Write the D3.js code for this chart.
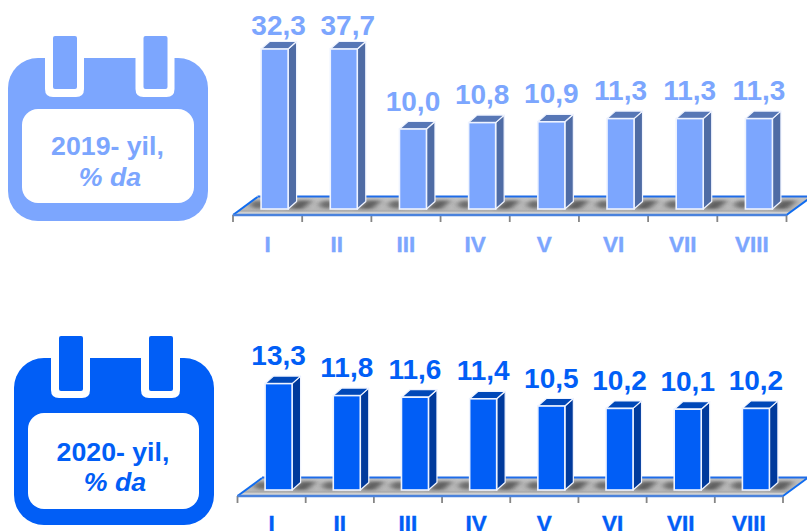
<!DOCTYPE html>
<html><head><meta charset="utf-8">
<script src="https://cdn.jsdelivr.net/npm/d3@7"></script>
<style>html,body{margin:0;padding:0;background:#fff;overflow:hidden}svg{display:block}text{font-family:"Liberation Sans",Arial,sans-serif;font-weight:bold}</style>
</head><body>
<svg id="c" width="807" height="531"></svg>
<script>
const months = ["I","II","III","IV","V","VI","VII","VIII"];
const values2019 = [32.3,37.7,10.0,10.8,10.9,11.3,11.3,11.3];
const values2020 = [13.3,11.8,11.6,11.4,10.5,10.2,10.1,10.2];
const yearLabel2019 = "2019- yil,";
const yearLabel2020 = "2020- yil,";
const unitLabel = "% da";
const axisMax = 20;

const svg = d3.select("#c");
const defs = svg.append("defs");
defs.append("filter").attr("id","blur").attr("x","-60%").attr("y","-100%").attr("width","220%").attr("height","300%")
  .append("feGaussianBlur").attr("stdDeviation","3 1.8");
const fmt = v => d3.format(".1f")(v).replace(".",",");

function panel(o){
  const g = svg.append("g");
  // calendar icon
  const c = o.cal, ic = g.append("g");
  ic.append("rect").attr("x",c.x0).attr("y",c.y0).attr("width",c.x1-c.x0).attr("height",c.y1-c.y0).attr("rx",30).attr("fill",o.color);
  ic.append("rect").attr("x",c.ix0).attr("y",c.iy0).attr("width",c.ix1-c.ix0).attr("height",c.iy1-c.iy0).attr("rx",16).attr("fill","#fff");
  c.notch.forEach(nx=>{
    ic.append("path").attr("d",`M${nx},${c.y0-1}V${c.ny-8}q0,8 8,8H${nx+31}q8,0 8,-8V${c.y0-1}Z`).attr("fill","#fff");
    ic.append("rect").attr("x",nx+8).attr("y",c.ty0).attr("width",24).attr("height",c.ty1-c.ty0).attr("rx",2).attr("fill",o.color);
  });
  g.append("text").attr("x",c.tx).attr("y",c.ty).attr("text-anchor","middle").attr("font-size",26.7).attr("fill",o.color).text(o.year);
  g.append("text").attr("x",c.tx+c.dx2).attr("y",c.ty2).attr("text-anchor","middle").attr("font-size",26.7).attr("font-style","italic").attr("fill",o.color).text(unitLabel);

  // chart
  const x = d3.scaleBand().domain(months).range([o.x0,o.x1]);
  const y = d3.scaleLinear().domain([0,axisMax]).range([o.base,o.base-160]).clamp(true);
  const fy=o.floorY, dx=24.5, dy=18, bw=27, sx=8.5, sy=7.5, off=7;
  const floor = g.append("g");
  const grad = "floor"+o.id, clip="clip"+o.id;
  const floorPath = `M${o.x0},${fy}L${o.x0+dx},${fy-dy}H${o.x1+dx}L${o.x1},${fy}Z`;
  defs.append("clipPath").attr("id",clip).append("path").attr("d",floorPath);
  const lg = defs.append("linearGradient").attr("id",grad).attr("x1",0).attr("x2",0).attr("y1",0).attr("y2",1);
  lg.append("stop").attr("offset",0).attr("stop-color","#c4c4c4");
  lg.append("stop").attr("offset",.7).attr("stop-color","#b6b6b6");
  lg.append("stop").attr("offset",.78).attr("stop-color","#a8a8a8");
  lg.append("stop").attr("offset",.85).attr("stop-color","#cfcfcf");
  lg.append("stop").attr("offset",1).attr("stop-color","#d8d8d8");
  floor.append("path").attr("d",floorPath).attr("fill",`url(#${grad})`);
  // shadows, one either side of each bar's foot
  const bx0 = m=>x(m)+x.bandwidth()/2+off-bw/2;
  const sh = floor.append("g").attr("clip-path",`url(#${clip})`);
  sh.selectAll(".s").data(months).join("path")
    .attr("d",m=>{const r=bx0(m)+bw;return `M${r},${o.base}l${sx},${-sy-1}h16l-10,${sy+1}Z`;})
    .attr("fill","#3a3a3a").attr("opacity",.72).attr("filter","url(#blur)");
  sh.selectAll(".s2").data(months).join("ellipse")
    .attr("cx",m=>bx0(m)-3).attr("cy",o.base-4.5).attr("rx",8).attr("ry",4)
    .attr("fill","#3a3a3a").attr("opacity",.6).attr("filter","url(#blur)");
  // ticks
  const ticks = d3.range(months.length+1).map(i=>o.x0+i*x.step());
  floor.selectAll(".t").data(ticks).join("line").attr("x1",d=>d).attr("x2",d=>d).attr("y1",fy).attr("y2",fy+7)
    .attr("stroke","#858585").attr("stroke-width",1.8);
  floor.append("path").attr("d",`M${o.x0},${fy}L${o.x0+dx},${fy-dy}`).attr("stroke","#0f6cf0").attr("stroke-width",2).attr("fill","none");
  floor.append("path").attr("d",`M${o.x1},${fy}L${o.x1+dx},${fy-dy}`).attr("stroke","#0f6cf0").attr("stroke-width",2).attr("fill","none");
  floor.append("path").attr("d",`M${o.x0+dx},${fy-dy-.5}H${o.x1+dx}`).attr("stroke","#1f6ce8").attr("stroke-width",2).attr("fill","none");
  floor.append("path").attr("d",`M${o.x0},${fy}H${o.x1}`).attr("stroke","#4a82dc").attr("stroke-width",2.4).attr("fill","none");
  const axis = d3.axisBottom(x).tickSize(0).tickPadding(0);
  const ax = g.append("g").attr("transform",`translate(0,${o.labelY})`).call(axis);
  ax.select(".domain").remove();
  ax.selectAll("text").attr("y",0).attr("dy",0).attr("font-size",22.5).attr("font-family",null).attr("fill",o.color)
    .attr("stroke",o.color).attr("stroke-width",.4);

  // bars
  const data = months.map((m,i)=>({m,v:o.values[i]}));
  const bars = g.selectAll(".b").data(data).join("g");
  const bx = d=>bx0(d.m);
  bars.append("path").attr("d",d=>{const l=bx(d)+bw,t=y(d.v),b=o.base;return `M${l},${t}l${sx},${-sy}V${b-sy}L${l},${b}Z`;})
    .attr("fill",o.side).attr("stroke","#f0f4ff").attr("stroke-width",1.2).attr("stroke-linejoin","round");
  bars.append("path").attr("d",d=>{const l=bx(d),t=y(d.v);return `M${l},${t}l${sx},${-sy}h${bw}l${-sx},${sy}Z`;})
    .attr("fill",o.top).attr("stroke","#f0f4ff").attr("stroke-width",1.2).attr("stroke-linejoin","round");
  bars.append("rect").attr("x",bx).attr("y",d=>y(d.v)).attr("width",bw).attr("height",d=>o.base-y(d.v))
    .attr("fill",o.color).attr("stroke","#eef3ff").attr("stroke-width",1.6);
  bars.append("text").attr("x",d=>bx(d)+bw/2+(d.v>axisMax?4:0)).attr("y",d=>y(d.v)-(d.v>axisMax?14:18.5))
    .attr("text-anchor","middle").attr("font-size",28).attr("fill",o.color).text(d=>fmt(d.v));
}

panel({id:"a",values:values2019,year:yearLabel2019,color:"#7ca6fe",side:"#4f6ca5",top:"#5777b6",
  x0:233,x1:786.5,base:209,floorY:215,labelY:252,
  cal:{x0:8,x1:208,y0:58,y1:221,ix0:22,ix1:194,iy0:109,iy1:203,notch:[45,135.5],ny:97,ty0:36,ty1:89,tx:107.5,ty:155,dx2:2.5,ty2:186}});
panel({id:"b",values:values2020,year:yearLabel2020,color:"#015ef6",side:"#003a9c",top:"#0048b8",
  x0:237.5,x1:783,base:490,floorY:496,labelY:531,
  cal:{x0:14,x1:214,y0:358,y1:525,ix0:28,ix1:199,iy0:413,iy1:509,notch:[51,141],ny:398,ty0:336,ty1:391,tx:113,ty:461,dx2:2,ty2:491}});
</script>
</body></html>
